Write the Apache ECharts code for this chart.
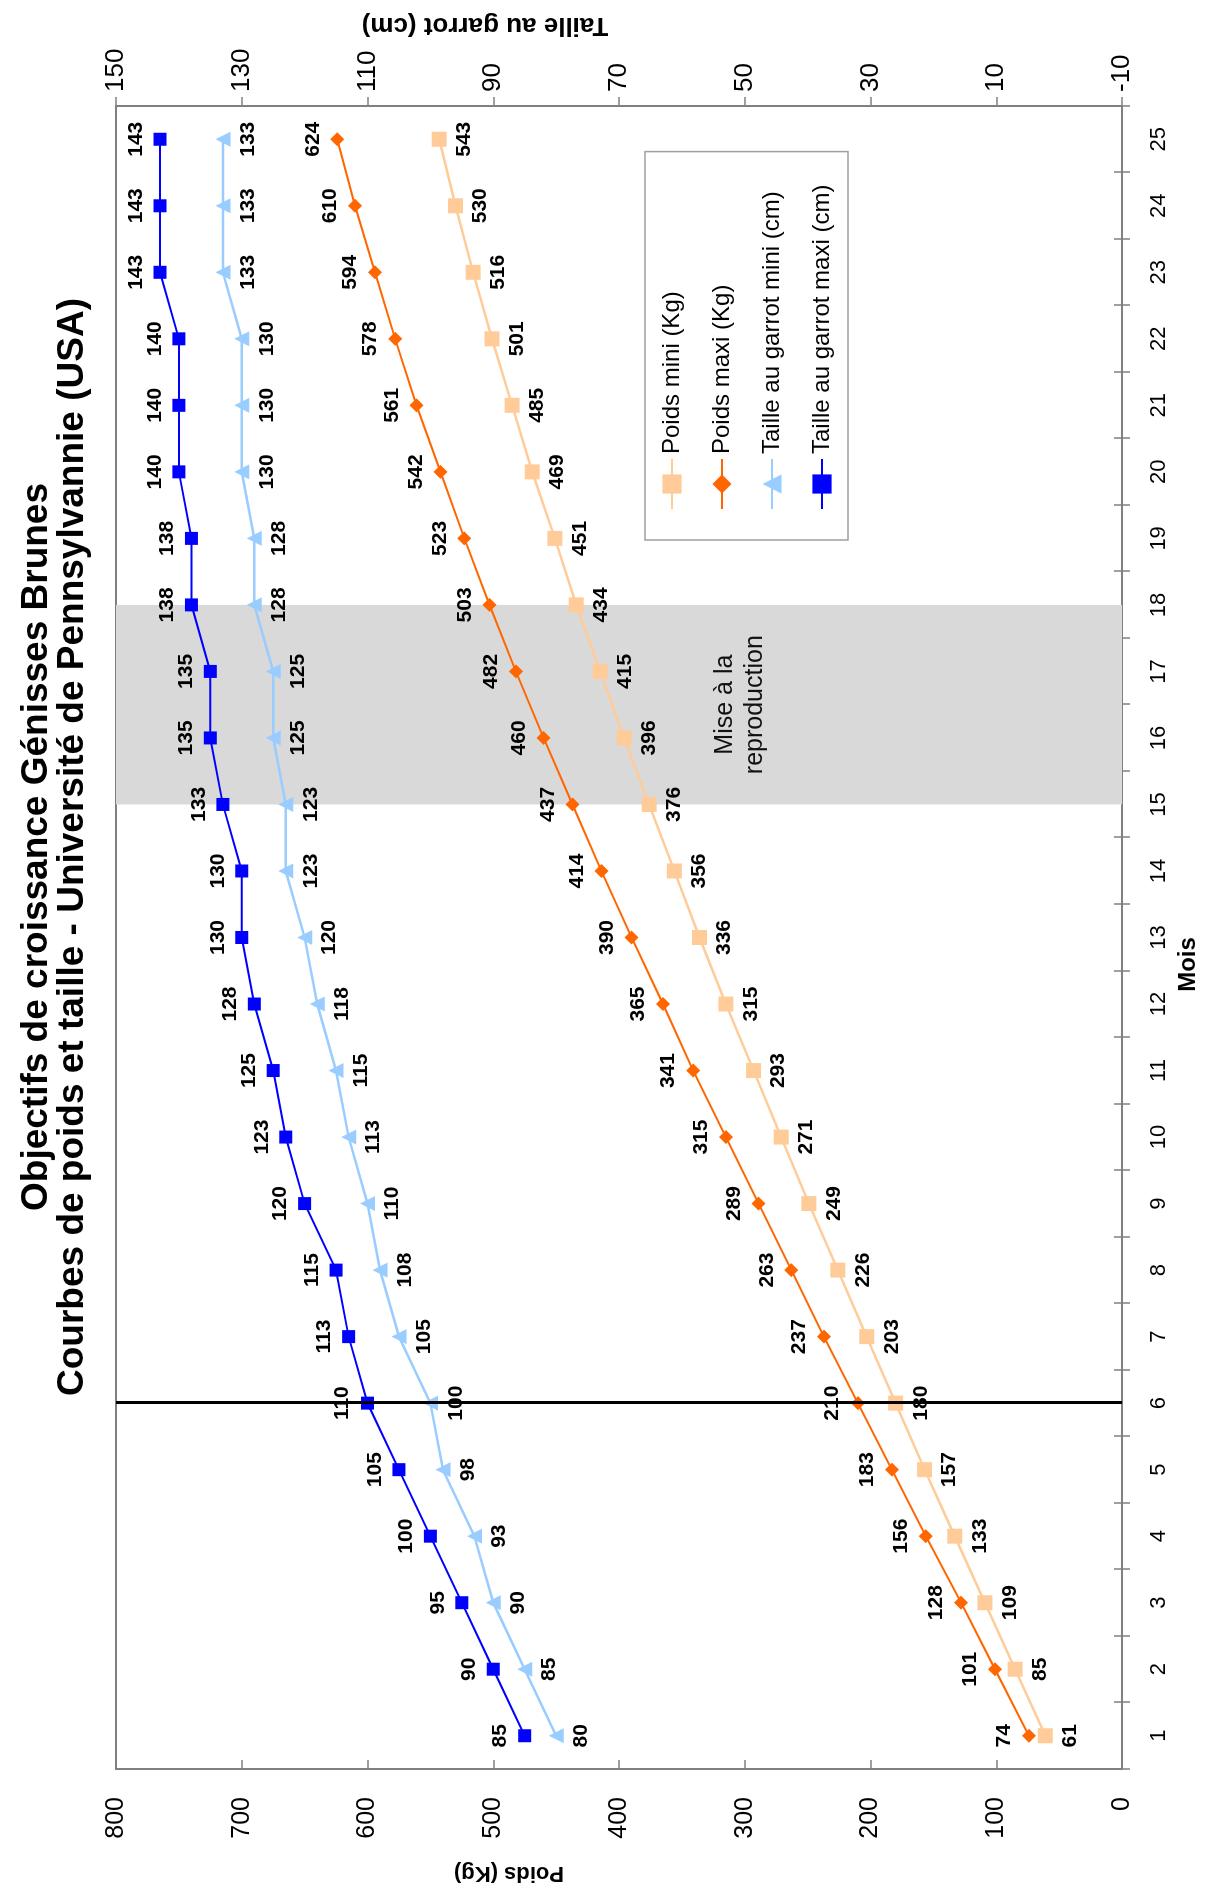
<!DOCTYPE html>
<html>
<head>
<meta charset="utf-8">
<title>Objectifs de croissance Génisses Brunes</title>
<script src="https://cdn.jsdelivr.net/npm/echarts@6/dist/echarts.min.js"></script>
<style>
  html, body { margin: 0; padding: 0; width: 1205px; height: 1892px; overflow: hidden; background: #fff; }
  /* le graphique est dessiné à l'horizontale puis tourné d'un quart de tour */
  #chart { position: absolute; left: 0; top: 0; width: 1892px; height: 1205px;
           transform-origin: 0 0; transform: translateY(1892px) rotate(-90deg); }
</style>
</head>
<body>
<div id="chart"></div>
<script>
const mois = ['1', '2', '3', '4', '5', '6', '7', '8', '9', '10', '11', '12', '13',
  '14', '15', '16', '17', '18', '19', '20', '21', '22', '23', '24', '25']

const poidsMini = [61, 85, 109, 133, 157, 180, 203, 226, 249, 271, 293, 315, 336,
  356, 376, 396, 415, 434, 451, 469, 485, 501, 516, 530, 543]
const poidsMaxi = [74, 101, 128, 156, 183, 210, 237, 263, 289, 315, 341, 365, 390,
  414, 437, 460, 482, 503, 523, 542, 561, 578, 594, 610, 624]
const tailleMini = [80, 85, 90, 93, 98, 100, 105, 108, 110, 113, 115, 118, 120,
  123, 123, 125, 125, 128, 128, 130, 130, 130, 133, 133, 133]
const tailleMaxi = [85, 90, 95, 100, 105, 110, 113, 115, 120, 123, 125, 128, 130,
  130, 133, 135, 135, 138, 138, 140, 140, 140, 143, 143, 143]

// période de mise à la reproduction et repère du 6e mois
const reproDebut = '15'
const reproFin = '18'
const repere = '6'

const police = "'Liberation Sans', Arial, sans-serif"

// les étiquettes du 6e mois ont un fond blanc qui coupe le trait noir
function marquer(vals) {
  return vals.map((v, i) => mois[i] === repere
    ? { value: v, label: { backgroundColor: '#fff', padding: [1, 3] } }
    : v)
}

function serie(nom, vals, axe, couleur, symbole, taille, largeur, pos) {
  return {
    name: nom,
    type: 'line',
    xAxisIndex: 0,
    yAxisIndex: axe,
    data: marquer(vals),
    symbol: symbole,
    symbolSize: taille,
    itemStyle: { color: couleur },
    lineStyle: { color: couleur, width: largeur },
    label: {
      show: true,
      position: pos,
      distance: 7,
      color: '#000',
      fontFamily: police,
      fontWeight: 'bold',
      fontSize: 21
    }
  }
}

const chart = echarts.init(document.getElementById('chart'))

const series = [
  serie('Poids mini (Kg)', poidsMini, 0, '#FFCC99', 'rect', 15, 2.5, 'bottom'),
  serie('Poids maxi (Kg)', poidsMaxi, 0, '#FF6600', 'diamond', 14, 2, 'top'),
  serie('Taille au garrot mini (cm)', tailleMini, 1, '#99CCFF', 'triangle', 15, 2.5, 'bottom'),
  serie('Taille au garrot maxi (cm)', tailleMaxi, 1, '#0000FF', 'rect', 13, 2, 'top')
]

series[0].markArea = {
  silent: true,
  itemStyle: { color: '#D9D9D9' },
  label: {
    show: true,
    position: 'inside',
    offset: [0, 121],
    color: '#111',
    fontFamily: police,
    fontSize: 25,
    lineHeight: 30,
    align: 'center'
  },
  data: [[{ xAxis: reproDebut, name: 'Mise à la\nreproduction' }, { xAxis: reproFin }]]
}
series[0].markLine = {
  silent: true,
  symbol: 'none',
  label: { show: false },
  lineStyle: { color: '#000', width: 3, type: 'solid' },
  data: [{ xAxis: repere }]
}

const option = {
  animation: false,
  backgroundColor: '#fff',
  title: {
    text: 'Objectifs de croissance Génisses Brunes\nCourbes de poids et taille - Université de Pennsylvannie (USA)',
    left: 1040,
    top: 14,
    textAlign: 'center',
    textStyle: { fontFamily: police, fontWeight: 'bold', fontSize: 37, lineHeight: 36, color: '#000' }
  },
  legend: {
    orient: 'vertical',
    left: 1352,
    top: 645,
    padding: [15, 33, 14, 30],
    itemGap: 26,
    itemWidth: 50,
    itemHeight: 24,
    backgroundColor: '#fff',
    borderColor: '#A0A0A0',
    borderWidth: 1.5,
    borderRadius: 0,
    textStyle: { fontFamily: police, fontSize: 24, color: '#000' },
    data: series.map(s => s.name)
  },
  grid: {
    left: 123,
    right: 106,
    top: 116,
    bottom: 83,
    show: true,
    borderColor: '#808080',
    borderWidth: 2,
    containLabel: false,
    outerBoundsMode: 'none'
  },
  xAxis: [
    {
      type: 'category',
      data: mois,
      boundaryGap: true,
      position: 'bottom',
      name: 'Mois',
      nameLocation: 'middle',
      nameGap: 54,
      nameTextStyle: { fontFamily: police, fontWeight: 'bold', fontSize: 24, color: '#000', padding: [0, 54, 0, 0] },
      axisLine: { show: true, onZero: false, lineStyle: { color: '#808080', width: 2 } },
      axisTick: { show: true, inside: false, length: 8, lineStyle: { color: '#808080', width: 1.5 } },
      axisLabel: { margin: 26, fontFamily: police, fontSize: 22, color: '#000' },
      splitLine: { show: false }
    },
    {
      // petits traits côté intérieur
      type: 'category',
      data: mois,
      boundaryGap: true,
      position: 'bottom',
      axisLine: { show: false, onZero: false },
      axisTick: { show: true, inside: true, length: 8, lineStyle: { color: '#808080', width: 1.5 } },
      axisLabel: { show: false },
      splitLine: { show: false }
    }
  ],
  yAxis: [
    {
      type: 'value',
      position: 'left',
      min: 0,
      max: 800,
      interval: 100,
      name: 'Poids (Kg)',
      nameLocation: 'middle',
      nameRotate: 90,
      nameGap: 93,
      nameTextStyle: { fontFamily: police, fontWeight: 'bold', fontSize: 22, color: '#000', padding: [0, 0, 0, 220] },
      axisLine: { show: true, onZero: false, lineStyle: { color: '#808080', width: 2 } },
      axisTick: { show: true, inside: true, length: 9, lineStyle: { color: '#808080', width: 1.5 } },
      axisLabel: { margin: 28, fontFamily: police, fontSize: 25, color: '#000' },
      splitLine: { show: false }
    },
    {
      type: 'value',
      position: 'right',
      min: -10,
      max: 150,
      interval: 20,
      name: 'Taille au garrot (cm)',
      nameLocation: 'middle',
      nameRotate: 90,
      nameGap: 68,
      nameTextStyle: { fontFamily: police, fontWeight: 'bold', fontSize: 26, color: '#000', padding: [0, 0, 0, 268] },
      axisLine: { show: true, onZero: false, lineStyle: { color: '#808080', width: 2 } },
      axisTick: { show: true, inside: false, length: 9, lineStyle: { color: '#808080', width: 1.5 } },
      axisLabel: { margin: 14, fontFamily: police, fontSize: 26, color: '#000' },
      splitLine: { show: false }
    }
  ],
  series: series
}

chart.setOption(option)
</script>
</body>
</html>
